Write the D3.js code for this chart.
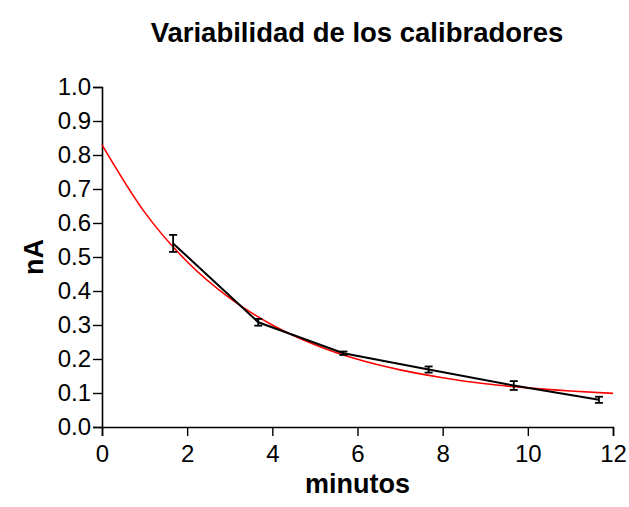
<!DOCTYPE html>
<html>
<head>
<meta charset="utf-8">
<script src="https://cdn.jsdelivr.net/npm/d3@7.9.0/dist/d3.min.js"></script>
<style>
  body { margin: 0; background: #fff; }
  svg { display: block; font-family: "Liberation Sans", Arial, sans-serif; }
</style>
</head>
<body>
<div id="chart"></div>
<script>
const minutes = [1.67, 3.67, 5.67, 7.67, 9.67, 11.67];
const meanNA = [0.54, 0.308, 0.217, 0.169, 0.122, 0.080];
const errNA = [0.025, 0.010, 0.005, 0.009, 0.013, 0.009];

// red fitted curve, sampled along the picture
const fitX = [0, 1, 2, 3, 4, 5, 6, 7, 8, 9, 10, 11, 12];
const fitY = [0.830, 0.632, 0.486, 0.379, 0.300, 0.242, 0.199, 0.168, 0.145, 0.127, 0.115, 0.106, 0.099];

const xTicks = [0, 2, 4, 6, 8, 10, 12];
const yTicks = [0, 0.1, 0.2, 0.3, 0.4, 0.5, 0.6, 0.7, 0.8, 0.9, 1.0];

const width = 629;
const height = 507;
const margin = { top: 87, right: 16, bottom: 80, left: 102 };

const svg = d3.select('#chart')
    .append('svg')
    .attr('width', width)
    .attr('height', height);

const xScale = d3.scaleLinear()
    .domain([0, 12])
    .range([margin.left, width - margin.right]);

const yScale = d3.scaleLinear()
    .domain([0, 1])
    .range([height - margin.bottom, margin.top]);

// title
svg.append('text')
    .attr('x', 357)
    .attr('y', 42)
    .attr('text-anchor', 'middle')
    .attr('font-size', 27.5)
    .attr('font-weight', 'bold')
    .text('Variabilidad de los calibradores');

// axes
const xAxis = svg.append('g')
    .attr('transform', `translate(0, ${yScale(0)})`)
    .call(d3.axisBottom(xScale).tickValues(xTicks).tickSize(9).tickPadding(9).tickFormat(d3.format('d')));

const yAxis = svg.append('g')
    .attr('transform', `translate(${xScale(0)}, 0)`)
    .call(d3.axisLeft(yScale).tickValues(yTicks).tickSize(9).tickPadding(2).tickFormat(d3.format('.1f')));

[xAxis, yAxis].forEach(g => {
    g.selectAll('.domain').attr('stroke', '#000').attr('stroke-width', 1.6);
    g.selectAll('.tick line').attr('stroke', '#000').attr('stroke-width', 1.4);
    g.selectAll('.tick text')
        .attr('fill', '#000')
        .attr('font-size', 24)
        .attr('font-family', '"Liberation Sans", Arial, sans-serif');
});

// axis labels
svg.append('text')
    .attr('x', xScale(6))
    .attr('y', 493)
    .attr('text-anchor', 'middle')
    .attr('font-size', 27)
    .attr('font-weight', 'bold')
    .text('minutos');

svg.append('text')
    .attr('transform', `translate(43, ${yScale(0.5)}) rotate(-90)`)
    .attr('text-anchor', 'middle')
    .attr('font-size', 27)
    .attr('font-weight', 'bold')
    .text('nA');

// fitted curve
const fitLine = d3.line()
    .x(d => xScale(d[0]))
    .y(d => yScale(d[1]))
    .curve(d3.curveMonotoneX);

svg.append('path')
    .datum(d3.zip(fitX, fitY))
    .attr('fill', 'none')
    .attr('stroke', '#ff0000')
    .attr('stroke-width', 1.6)
    .attr('d', fitLine);

// mean line
const points = minutes.map((m, i) => ({ x: m, y: meanNA[i], e: errNA[i] }));

svg.append('path')
    .datum(points)
    .attr('fill', 'none')
    .attr('stroke', '#000')
    .attr('stroke-width', 2)
    .attr('d', d3.line().x(d => xScale(d.x)).y(d => yScale(d.y)));

// error bars
const bars = svg.append('g')
    .attr('stroke', '#000')
    .attr('stroke-width', 1.8)
    .selectAll('g')
    .data(points)
    .join('g');

bars.append('line')
    .attr('x1', d => xScale(d.x)).attr('x2', d => xScale(d.x))
    .attr('y1', d => yScale(d.y + d.e)).attr('y2', d => yScale(d.y - d.e));

bars.append('line')
    .attr('x1', d => xScale(d.x) - 4).attr('x2', d => xScale(d.x) + 4)
    .attr('y1', d => yScale(d.y + d.e)).attr('y2', d => yScale(d.y + d.e));

bars.append('line')
    .attr('x1', d => xScale(d.x) - 4).attr('x2', d => xScale(d.x) + 4)
    .attr('y1', d => yScale(d.y - d.e)).attr('y2', d => yScale(d.y - d.e));
</script>
</body>
</html>
